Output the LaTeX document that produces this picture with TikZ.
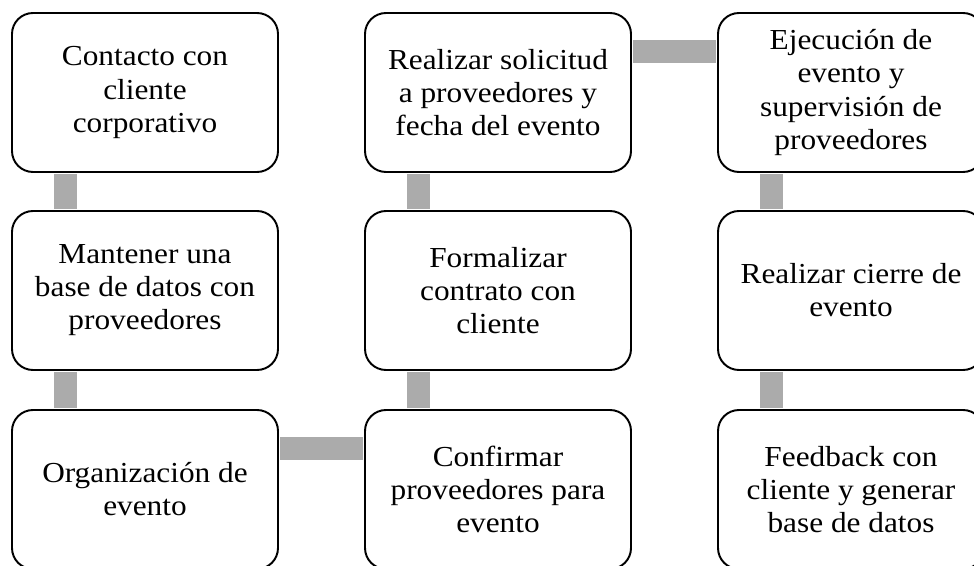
\documentclass[tikz,border=0pt]{standalone}
\usepackage{fontspec}
\setmainfont{Liberation Serif}[FakeStretch=1.08]
\usepackage{tikz}
\usetikzlibrary{arrows.meta,shapes}

\begin{document}
\begin{tikzpicture}
	\useasboundingbox (0,0) rectangle (19.48,-11.32);
	\tikzstyle{stepbox} = [draw=black,line width=1.1pt,rectangle,rounded corners=0.42cm,fill=white,minimum width=5.32cm,minimum height=3.18cm,align=center,font=\fontsize{16.5}{18.8}\selectfont]
	\tikzstyle{link} = [line width=0.46cm,color=black!33,shorten >=0.6pt,shorten <=0.6pt]
	%\tikzstyle{link}=[->,thick]

	% first column
	\node[stepbox] (c1) at (2.90,-1.85) {Contacto con\\cliente\\corporativo};
	\node[stepbox] (c2) at (2.90,-5.81) {Mantener una\\base de datos con\\proveedores};
	\node[stepbox] (c3) at (2.90,-9.79) {Organizaci\'on de\\evento};
	% second column
	\node[stepbox] (c4) at (9.96,-9.79) {Confirmar\\proveedores para\\evento};
	\node[stepbox] (c5) at (9.96,-5.81) {Formalizar\\contrato con\\cliente};
	\node[stepbox] (c6) at (9.96,-1.85) {Realizar solicitud\\a proveedores y\\fecha del evento};
	% third column
	\node[stepbox] (c7) at (17.02,-1.85) {Ejecuci\'on de\\evento y\\supervisi\'on de\\proveedores};
	\node[stepbox] (c8) at (17.02,-5.81) {Realizar cierre de\\evento};
	\node[stepbox] (c9) at (17.02,-9.79) {Feedback con\\cliente y generar\\base de datos};

	\draw[link] ([xshift=1.08cm]c1.south west) -- ([xshift=1.08cm]c2.north west);
	\draw[link] ([xshift=1.08cm]c2.south west) -- ([xshift=1.08cm]c3.north west);
	\draw[link] ([yshift=-0.78cm]c3.north east) -- ([yshift=-0.78cm]c4.north west);
	\draw[link] ([xshift=1.08cm]c4.north west) -- ([xshift=1.08cm]c5.south west);
	\draw[link] ([xshift=1.08cm]c5.north west) -- ([xshift=1.08cm]c6.south west);
	\draw[link] ([yshift=-0.78cm]c6.north east) -- ([yshift=-0.78cm]c7.north west);
	\draw[link] ([xshift=1.08cm]c7.south west) -- ([xshift=1.08cm]c8.north west);
	\draw[link] ([xshift=1.08cm]c8.south west) -- ([xshift=1.08cm]c9.north west);
\end{tikzpicture}
\end{document}
